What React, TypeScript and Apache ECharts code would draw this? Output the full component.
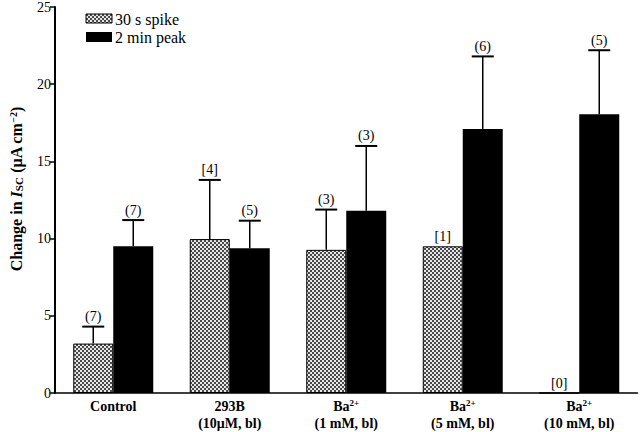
import React, { useEffect, useRef } from "react";
import * as echarts from "echarts";

const categories = [
  "Control",
  "293B\n(10μM, bl)",
  "Ba{sup|2+}\n(1 mM, bl)",
  "Ba{sup|2+}\n(5 mM, bl)",
  "Ba{sup|2+}\n(10 mM, bl)",
];
const spikeValues = [3.2, 9.97, 9.27, 9.5, 0];
const spikeErrTop: (number | null)[] = [4.3, 13.8, 11.88, null, null];
const spikeLabels = ["(7)", "[4]", "(3)", "[1]", "[0]"];
const peakValues = [9.5, 9.37, 11.8, 17.1, 18.05];
const peakErrTop = [11.2, 11.16, 16.0, 21.8, 22.2];
const peakLabels = ["(7)", "(5)", "(3)", "(6)", "(5)"];
const legendNames = ["30 s spike", "2 min peak"];
const yTicks = { min: 0, max: 25, interval: 5 };

const FONT = "'Liberation Serif', 'Times New Roman', Times, serif";

function makePattern() {
  const c = document.createElement("canvas");
  c.width = 4;
  c.height = 4;
  const ctx = c.getContext("2d")!;
  ctx.fillStyle = "#e6e6e6";
  ctx.fillRect(0, 0, 4, 4);
  ctx.fillStyle = "#4a4a4a";
  ctx.fillRect(0, 0, 2, 2);
  ctx.fillRect(2, 2, 2, 2);
  return c;
}

export default function App() {
  const ref = useRef<HTMLDivElement>(null);
  useEffect(() => {
    const chart = echarts.init(ref.current!, null, { renderer: "svg" });
    const pattern = { image: makePattern(), repeat: "repeat" } as any;
    const BAR_W = 40;

    const errSeries = (
      name: string,
      values: number[],
      tops: (number | null)[],
      labels: string[],
      offset: number
    ) => ({
      type: "custom",
      name,
      z: 10,
      silent: true,
      itemStyle: { color: "#000" },
      data: values.map((v, i) => [i, v]),
      renderItem: (params: any, api: any) => {
        const i = params.dataIndex;
        const base = api.coord([i, values[i]]);
        const cx = base[0] + offset;
        const children: any[] = [];
        let ly = base[1];
        const t = tops[i];
        if (t != null) {
          const tp = api.coord([i, t]);
          children.push({
            type: "line",
            shape: { x1: cx, y1: base[1], x2: cx, y2: tp[1] },
            style: { stroke: "#000", lineWidth: 1.5 },
          });
          children.push({
            type: "line",
            shape: { x1: cx - 11, y1: tp[1], x2: cx + 11, y2: tp[1] },
            style: { stroke: "#000", lineWidth: 2 },
          });
          ly = tp[1];
        }
        children.push({
          type: "text",
          style: {
            x: cx,
            y: ly - 3,
            text: labels[i],
            align: "center",
            verticalAlign: "bottom",
            fontFamily: FONT,
            fontSize: 14,
            fill: "#000",
          },
        });
        return { type: "group", children };
      },
    });

    chart.setOption({
      animation: false,
      backgroundColor: "#fff",
      textStyle: { fontFamily: FONT },
      grid: { left: 52.5, right: 2.5, top: 5, bottom: 35 },
      graphic: [
        {
          type: "rect",
          shape: { x: 86, y: 14, width: 26, height: 9 },
          style: { fill: pattern, stroke: "#000", lineWidth: 1 },
        },
        {
          type: "rect",
          shape: { x: 86, y: 32, width: 26, height: 10 },
          style: { fill: "#000" },
        },
        {
          type: "text",
          x: 115,
          y: 19,
          style: {
            text: legendNames[0],
            fontFamily: FONT,
            fontSize: 16,
            fill: "#000",
            verticalAlign: "middle",
          },
        },
        {
          type: "text",
          x: 115,
          y: 37,
          style: {
            text: legendNames[1],
            fontFamily: FONT,
            fontSize: 16,
            fill: "#000",
            verticalAlign: "middle",
          },
        },
      ],
      xAxis: {
        type: "category",
        data: categories,
        axisLine: { lineStyle: { color: "#000", width: 1.5 } },
        axisTick: { show: false },
        axisLabel: {
          interval: 0,
          margin: 5,
          color: "#000",
          fontFamily: FONT,
          fontWeight: "bold",
          fontSize: 14,
          lineHeight: 17,
          rich: {
            sup: {
              fontFamily: FONT,
              fontWeight: "bold",
              fontSize: 9,
              verticalAlign: "top",
              lineHeight: 17,
            },
          },
        },
      },
      yAxis: {
        type: "value",
        min: yTicks.min,
        max: yTicks.max,
        interval: yTicks.interval,
        splitLine: { show: false },
        axisLine: { show: true, lineStyle: { color: "#000", width: 2 } },
        axisTick: { show: true, length: 5, lineStyle: { color: "#000", width: 1.5 } },
        axisLabel: { color: "#000", fontFamily: FONT, fontSize: 14, margin: 4 },
        name: "Change in {i|I}{sub|SC} (μA cm{sup|−2})",
        nameLocation: "middle",
        nameGap: 31,
        nameTextStyle: {
          fontFamily: FONT,
          fontWeight: "bold",
          fontSize: 16,
          color: "#000",
          padding: [0, 0, 0, 22],
          rich: {
            i: { fontFamily: FONT, fontStyle: "italic", fontWeight: "bold", fontSize: 16 },
            sub: { fontFamily: FONT, fontWeight: "bold", fontSize: 11, verticalAlign: "bottom" },
            sup: { fontFamily: FONT, fontWeight: "bold", fontSize: 10, verticalAlign: "top" },
          },
        },
      },
      series: [
        {
          type: "bar",
          name: legendNames[0],
          data: spikeValues,
          barWidth: BAR_W,
          barGap: "0%",
          itemStyle: { color: pattern, borderColor: "#000", borderWidth: 1 },
        },
        {
          type: "bar",
          name: legendNames[1],
          data: peakValues,
          barWidth: BAR_W,
          barGap: "0%",
          itemStyle: { color: "#000" },
        },
        errSeries("err1", spikeValues, spikeErrTop, spikeLabels, -BAR_W / 2),
        errSeries("err2", peakValues, peakErrTop, peakLabels, BAR_W / 2),
      ],
    });
    return () => chart.dispose();
  }, []);
  return (
    <div
      ref={ref}
      style={{ position: "absolute", left: 0, top: 0, width: 640, height: 432 }}
    />
  );
}
